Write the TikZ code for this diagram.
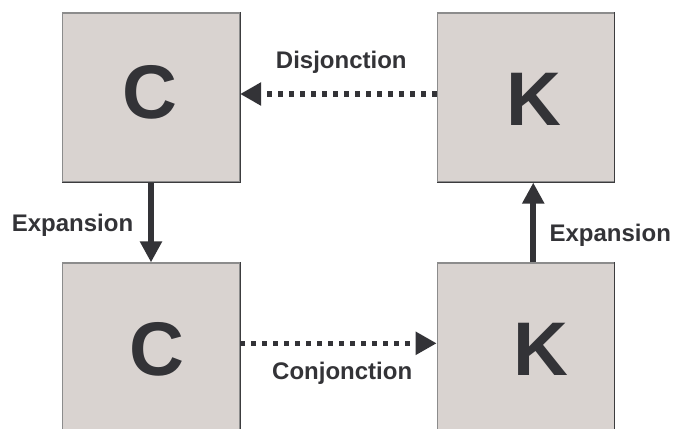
\documentclass[tikz,border=0pt]{standalone}
\usepackage{fontspec}
\setmainfont{Liberation Sans}
\usetikzlibrary{arrows.meta}
\definecolor{boxfill}{HTML}{D9D3D0}
\definecolor{edgelight}{HTML}{8C8C8C}
\definecolor{edgedark}{HTML}{3C3C3E}
\definecolor{ink}{HTML}{333337}
\tikzset{
  box/.style={draw=edgelight, fill=boxfill, line width=1.2pt, minimum width=177pt, minimum height=169pt, inner sep=0pt},
  boxedge/.style={draw=edgedark, line width=1.2pt},
  letter/.style={font=\fontsize{76}{76}\bfseries, text=ink, inner sep=0pt},
  lbl/.style={font=\fontsize{24}{24}\bfseries, text=ink, inner sep=0pt, anchor=base},
  dotarrow/.style={draw=ink, line width=5.5pt, dash pattern=on 5pt off 6pt, -{Triangle[length=21pt,width=22pt]}},
  solidarrow/.style={draw=ink, line width=6pt, -{Triangle[length=21pt,width=21pt]}}
}
\begin{document}
\begin{tikzpicture}[x=1pt,y=-1pt]
\useasboundingbox (0,0) rectangle (674,428);
\clip (0,0) rectangle (674,428);
\fill[white] (0,0) rectangle (674,428);
% boxes
\node[box] (c1) at (151,97.5) {};
\node[box] (k1) at (525.75,97.5) {};
\node[box] (c2) at (151,347.5) {};
\node[box] (k2) at (525.75,347.5) {};
\foreach \b in {c1,k1,c2,k2}{
  \draw[boxedge] (\b.north east) -- (\b.south east) -- (\b.south west);
}
% letters
\node[letter] (lc1) at (149.7,92.5) {C};
\node[letter] (lk1) at (534,99.2) {K};
\node[letter] (lc2) at (157,349) {C};
\node[letter] (lk2) at (541,349.7) {K};
% connectors
\draw[dotarrow] ([yshift=3.5pt]k1.west) -- ([yshift=3.5pt]c1.east);
\draw[dotarrow] ([yshift=4.2pt]c2.east) -- ([yshift=4.2pt]k2.west);
\draw[solidarrow] (c1.south) -- (c2.north);
\draw[solidarrow] ([xshift=7.5pt]k2.north) -- ([xshift=7.5pt]k1.south);
% labels
\node[lbl] (ldis) at (341.3,69) {Disjonction};
\node[lbl] (lcon) at (342.2,379.3) {Conjonction};
\node[lbl] (lexl) at (72.5,231.7) {Expansion};
\node[lbl] (lexr) at (610.3,241.7) {Expansion};
\end{tikzpicture}
\end{document}
